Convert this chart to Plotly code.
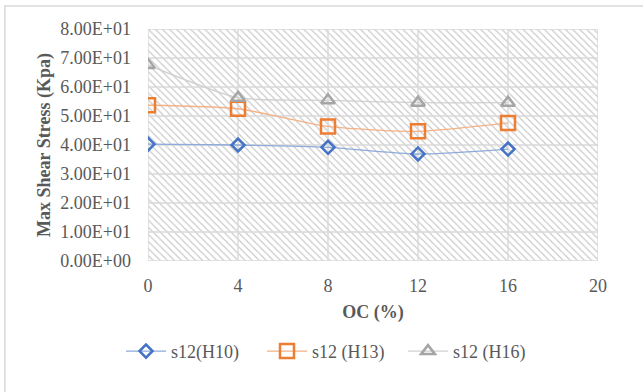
import plotly.graph_objects as go

# Organic content (%) on the x axis
oc = [0, 4, 8, 12, 16]

# Maximum shear stress (kPa) for each series
s12_h10 = [40.3, 40.0, 39.2, 36.9, 38.6]
s12_h13 = [53.7, 52.5, 46.4, 44.7, 47.6]
s12_h16 = [67.6, 56.3, 55.4, 54.6, 54.6]

x_ticks = [0, 4, 8, 12, 16, 20]
y_ticks = [0, 10, 20, 30, 40, 50, 60, 70, 80]
y_tick_text = ["%.2fE+%02d" % (v / 10, 1) if v else "0.00E+00" for v in y_ticks]

FONT = "Liberation Serif, Times New Roman, serif"
TEXT = "#595959"
GRID = "#d9d9d9"

fig = go.Figure()

x0, x1 = x_ticks[0], x_ticks[-1]
y0, y1 = y_ticks[0], y_ticks[-1]

# Hatched plot-area background
fig.add_trace(go.Scatter(
    x=[x0, x1, x1, x0, x0], y=[y0, y0, y1, y1, y0],
    mode="none", fill="toself", fillcolor="rgba(0,0,0,0)",
    fillpattern=dict(shape="\\", size=5, solidity=0.22, fgcolor="#c8c8c8",
                     bgcolor="white", fillmode="replace"),
    hoverinfo="skip", showlegend=False,
))

# Grid lines drawn over the hatching, under the data
gx, gy = [], []
for t in x_ticks:
    gx += [t, t, None]
    gy += [y0, y1, None]
for t in y_ticks:
    gx += [x0, x1, None]
    gy += [t, t, None]
fig.add_trace(go.Scatter(
    x=gx, y=gy, mode="lines", line=dict(color=GRID, width=1.4),
    hoverinfo="skip", showlegend=False,
))

series = [
    ("s12(H10)", s12_h10, "#4472c4", "#8eaadb", "diamond-open", 10),
    ("s12 (H13)", s12_h13, "#ed7d31", "#f4b183", "square-open", 14),
    ("s12 (H16)", s12_h16, "#a5a5a5", "#d0d0d0", "triangle-up-open", 12),
]
for name, vals, mcol, lcol, sym, size in series:
    fig.add_trace(go.Scatter(
        x=oc, y=vals, name=name, mode="lines+markers",
        line=dict(color=lcol, width=1.3, shape="spline", smoothing=0.6),
        marker=dict(symbol=sym, size=size, color=mcol,
                    line=dict(color=mcol, width=2.5)),
    ))

fig.update_layout(
    width=643, height=392,
    margin=dict(l=148, r=45, t=29, b=131),
    paper_bgcolor="white", plot_bgcolor="white",
    font=dict(family=FONT, color=TEXT, size=18),
    xaxis=dict(
        range=[x0, x1], tickvals=x_ticks, showgrid=False,
        zeroline=False, showline=False, ticks="",
        tickfont=dict(size=18, color=TEXT), ticklabelstandoff=12,
        title=dict(text="<b>OC (%)</b>", font=dict(size=18, color=TEXT), standoff=10),
    ),
    yaxis=dict(
        range=[y0, y1], tickvals=y_ticks, ticktext=y_tick_text, showgrid=False,
        zeroline=False, showline=False, ticks="",
        tickfont=dict(size=18, color=TEXT), ticklabelstandoff=16,
        title=dict(text="<b>Max Shear Stress (Kpa)</b>", font=dict(size=18, color=TEXT),
                   standoff=5),
    ),
    legend=dict(orientation="h", x=-0.06, xanchor="left", y=-0.31, yanchor="top",
                font=dict(size=18, color=TEXT), itemwidth=40, tracegroupgap=0,
                entrywidth=86, entrywidthmode="pixels"),
    shapes=[dict(type="rect", xref="paper", yref="paper",
                 x0=-0.318, x1=1.2, y0=-0.7, y1=1.099,
                 line=dict(color=GRID, width=1.5), layer="below")],
)

fig.write_html("out.html")
